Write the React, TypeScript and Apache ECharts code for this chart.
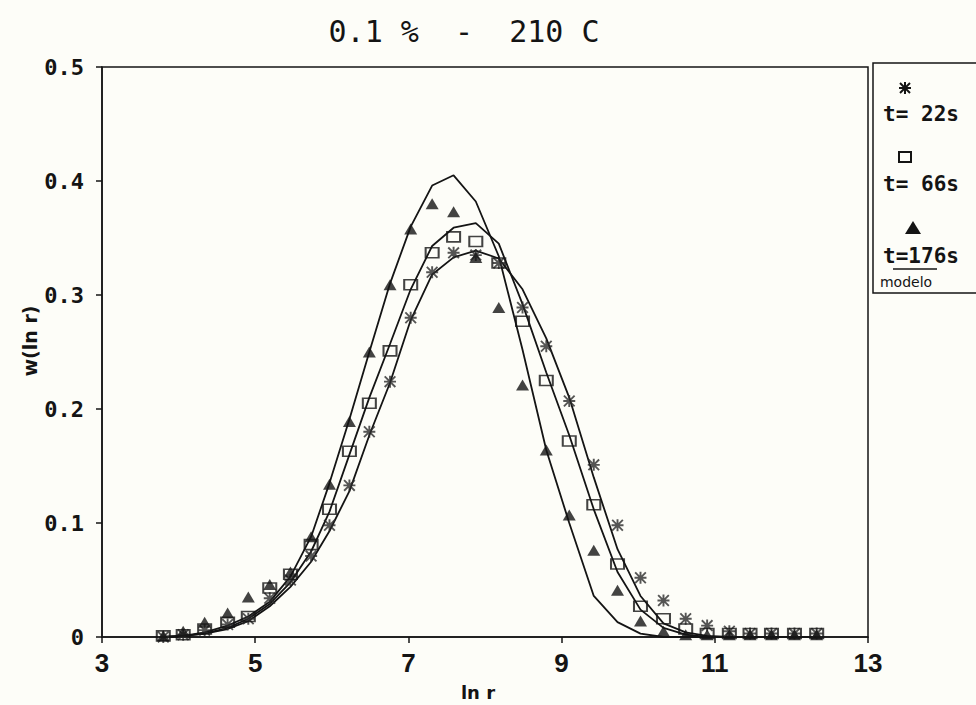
import React, { useEffect, useRef } from "react";
import * as echarts from "echarts";

const lnR = [3.8, 4.06, 4.34, 4.64, 4.91, 5.19, 5.46, 5.73, 5.97, 6.23, 6.49, 6.76, 7.03, 7.31, 7.59, 7.88, 8.18, 8.49, 8.8, 9.1, 9.42, 9.73, 10.03, 10.33, 10.62, 10.9, 11.19, 11.46, 11.74, 12.04, 12.33];

const w22 = [0.0, 0.002, 0.006, 0.011, 0.016, 0.034, 0.05, 0.071, 0.098, 0.133, 0.18, 0.224, 0.28, 0.32, 0.337, 0.335, 0.328, 0.289, 0.255, 0.207, 0.151, 0.098, 0.052, 0.032, 0.016, 0.01, 0.005, 0.003, 0.003, 0.003, 0.003];
const w66 = [0.001, 0.002, 0.007, 0.013, 0.018, 0.043, 0.055, 0.081, 0.112, 0.163, 0.205, 0.251, 0.309, 0.337, 0.351, 0.347, 0.328, 0.277, 0.225, 0.172, 0.116, 0.064, 0.027, 0.016, 0.007, 0.003, 0.003, 0.003, 0.003, 0.003, 0.003];
const w176 = [0.001, 0.005, 0.013, 0.021, 0.035, 0.046, 0.057, 0.088, 0.134, 0.189, 0.25, 0.309, 0.358, 0.38, 0.373, 0.333, 0.289, 0.221, 0.164, 0.107, 0.076, 0.041, 0.014, 0.005, 0.002, 0.002, 0.002, 0.002, 0.002, 0.002, 0.002];

const model22 = [0, 0.001, 0.003, 0.007, 0.014, 0.027, 0.044, 0.066, 0.093, 0.128, 0.177, 0.223, 0.278, 0.318, 0.333, 0.339, 0.332, 0.305, 0.262, 0.21, 0.14, 0.077, 0.036, 0.012, 0.004, 0.001, 0, 0, 0, 0, 0];
const model66 = [0, 0.001, 0.003, 0.008, 0.016, 0.029, 0.048, 0.075, 0.11, 0.16, 0.21, 0.257, 0.305, 0.343, 0.359, 0.363, 0.345, 0.292, 0.232, 0.177, 0.112, 0.057, 0.024, 0.008, 0.002, 0, 0, 0, 0, 0, 0];
const model176 = [0, 0.001, 0.004, 0.01, 0.018, 0.031, 0.053, 0.088, 0.135, 0.191, 0.25, 0.31, 0.36, 0.396, 0.405, 0.382, 0.334, 0.252, 0.164, 0.1, 0.036, 0.013, 0.003, 0, 0, 0, 0, 0, 0, 0, 0];

const titleText = "0.1 %  -  210 C";
const legendLabels = ["t= 22s", "t= 66s", "t=176s", "modelo"];
const xName = "ln r";
const yName = "w(ln r)";

const STAR =
  "path://M0 4.2H10V5.8H0Z M4.2 0H5.8V10H4.2Z M1.1 0L10 8.9L8.9 10L0 1.1Z M8.9 0L10 1.1L1.1 10L0 8.9Z";

const zip = (ys: number[]) => lnR.map((x, i) => [x, ys[i]]);

export default function App() {
  const ref = useRef<HTMLDivElement>(null);
  useEffect(() => {
    if (!ref.current) return;
    const chart = echarts.init(ref.current, undefined, { renderer: "svg" });
    const ink = "#141414";
    const lineSeries = (data: number[]) => ({
      type: "line",
      data: zip(data),
      showSymbol: false,
      symbol: "none",
      lineStyle: { color: ink, width: 1.8 },
      z: 2,
    });
    const mono = '"DejaVu Sans Mono", "Liberation Mono", monospace';
    const legendFont = `bold 21px ${mono}`;
    chart.setOption({
      animation: false,
      backgroundColor: "#fdfdf8",
      grid: {
        left: 102,
        right: 108,
        top: 67,
        bottom: 68,
        show: true,
        borderColor: ink,
        borderWidth: 1.5,
        backgroundColor: "transparent",
      },
      xAxis: {
        type: "value",
        min: 3,
        max: 13,
        interval: 2,
        axisLine: { show: true, lineStyle: { color: ink, width: 1.5 } },
        axisTick: { show: true, inside: false, length: 6, lineStyle: { color: ink, width: 1.5 } },
        axisLabel: {
          color: ink,
          fontFamily: '"Liberation Sans Narrow", "Liberation Sans", sans-serif',
          fontWeight: "bold",
          fontSize: 26,
          margin: 13,
        },
        splitLine: { show: false },
      },
      yAxis: {
        type: "value",
        min: 0,
        max: 0.5,
        interval: 0.1,
        axisLine: { show: true, lineStyle: { color: ink, width: 1.5 } },
        axisTick: { show: true, inside: false, length: 6, lineStyle: { color: ink, width: 1.5 } },
        axisLabel: {
          color: ink,
          fontFamily: mono,
          fontWeight: "bold",
          fontSize: 22,
          margin: 18,
          formatter: (v: number) => (v === 0 ? "0" : v.toFixed(1)),
        },
        splitLine: { show: false },
      },
      series: [
        lineSeries(model22),
        lineSeries(model66),
        lineSeries(model176),
        {
          type: "scatter",
          data: zip(w22),
          symbol: STAR,
          symbolSize: 12,
          itemStyle: { color: "#2a2a2a" },
          z: 3,
        },
        {
          type: "scatter",
          data: zip(w66),
          symbol: "rect",
          symbolSize: [13, 10],
          itemStyle: { color: "rgba(255,255,255,0)", borderColor: ink, borderWidth: 1.8 },
          z: 4,
        },
        {
          type: "scatter",
          data: zip(w176),
          symbol: "triangle",
          symbolSize: [13, 11],
          itemStyle: { color: ink },
          z: 5,
        },
      ],
      graphic: [
        {
          type: "text",
          x: 464,
          y: 31,
          style: {
            text: titleText,
            fill: ink,
            font: `30px ${mono}`,
            textAlign: "center",
            textVerticalAlign: "middle",
          },
        },
        {
          type: "text",
          x: 30,
          y: 341,
          rotation: Math.PI / 2,
          style: {
            text: yName,
            fill: ink,
            font: 'bold 19px "DejaVu Sans", sans-serif',
            textAlign: "center",
            textVerticalAlign: "middle",
          },
        },
        {
          type: "text",
          x: 478,
          y: 692,
          style: {
            text: xName,
            fill: ink,
            font: 'bold 18px "DejaVu Sans", sans-serif',
            textAlign: "center",
            textVerticalAlign: "middle",
          },
        },
        {
          type: "rect",
          shape: { x: 873, y: 63, width: 110, height: 230 },
          style: { fill: "none", stroke: ink, lineWidth: 1.5 },
        },
        {
          type: "group",
          x: 905,
          y: 88,
          children: [
            { type: "line", shape: { x1: -6, y1: 0, x2: 6, y2: 0 }, style: { stroke: ink, lineWidth: 2 } },
            { type: "line", shape: { x1: 0, y1: -6, x2: 0, y2: 6 }, style: { stroke: ink, lineWidth: 2 } },
            { type: "line", shape: { x1: -5, y1: -5, x2: 5, y2: 5 }, style: { stroke: ink, lineWidth: 2 } },
            { type: "line", shape: { x1: 5, y1: -5, x2: -5, y2: 5 }, style: { stroke: ink, lineWidth: 2 } },
          ],
        },
        {
          type: "text",
          x: 921,
          y: 114,
          style: { text: legendLabels[0], fill: ink, font: legendFont, textAlign: "center", textVerticalAlign: "middle" },
        },
        {
          type: "rect",
          shape: { x: 899, y: 152, width: 12, height: 10 },
          style: { fill: "none", stroke: ink, lineWidth: 2 },
        },
        {
          type: "text",
          x: 921,
          y: 184,
          style: { text: legendLabels[1], fill: ink, font: legendFont, textAlign: "center", textVerticalAlign: "middle" },
        },
        {
          type: "polygon",
          shape: { points: [[913, 221], [905, 234], [921, 234]] },
          style: { fill: ink },
        },
        {
          type: "text",
          x: 921,
          y: 256,
          style: { text: legendLabels[2], fill: ink, font: legendFont, textAlign: "center", textVerticalAlign: "middle" },
        },
        {
          type: "line",
          shape: { x1: 893, y1: 269, x2: 937, y2: 269 },
          style: { stroke: ink, lineWidth: 1.5 },
        },
        {
          type: "text",
          x: 906,
          y: 282,
          style: { text: legendLabels[3], fill: ink, font: '14px "DejaVu Sans", sans-serif', textAlign: "center", textVerticalAlign: "middle" },
        },
      ],
    });
    return () => chart.dispose();
  }, []);
  return (
    <div
      ref={ref}
      style={{ position: "fixed", left: 0, top: 0, width: 976, height: 705, background: "#fdfdf8" }}
    />
  );
}
